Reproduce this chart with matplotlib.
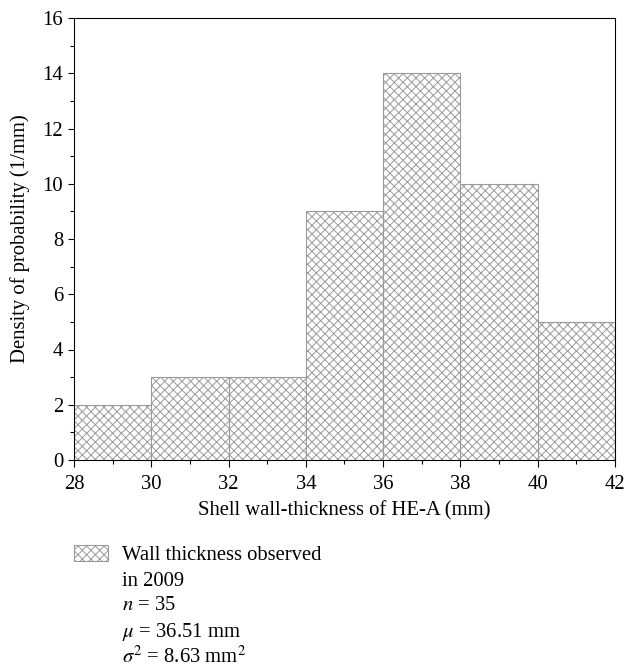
"""
Histogram of shell wall thickness (HE-A) with a hatched fill and a
hand-placed legend block under the axes.
"""

import matplotlib
matplotlib.use("Agg")
import matplotlib.pyplot as plt
from matplotlib.patches import Rectangle
from matplotlib.ticker import MultipleLocator

# ─── Data ─────────────────────────────────────────────────────────────────────

bin_left = [28, 30, 32, 34, 36, 38, 40]
bin_width = 2
density = [2, 3, 3, 9, 14, 10, 5]

x_ticks = [28, 30, 32, 34, 36, 38, 40, 42]
y_ticks = [0, 2, 4, 6, 8, 10, 12, 14, 16]

legend_lines = [
    "Wall thickness observed",
    "in 2009",
    r"$n$ = 35",
    r"$\mu$ = 36.51 mm",
    r"$\sigma^2$ = 8.63 mm$^2$",
]

# ─── Style ────────────────────────────────────────────────────────────────────

DPI = 78
W_PX, H_PX = 625, 669

plt.rcParams.update({
    "font.family":      ["Liberation Serif", "DejaVu Serif"],
    "mathtext.fontset": "stix",
    "font.size":        19,
    "hatch.linewidth":  0.9,
    "axes.linewidth":   1.0,
})

EDGE = "#9a9a9a"
HATCH = "xxx"


def px(x, y):
    """Pixel position (from top-left) to figure fraction."""
    return x / W_PX, 1 - y / H_PX


fig = plt.figure(figsize=(W_PX / DPI, H_PX / DPI), dpi=DPI)
l, t = px(74, 18)
r, b = px(615, 460)
ax = fig.add_axes([l, b, r - l, t - b])

ax.bar(bin_left, density, width=bin_width, align="edge",
       facecolor="white", edgecolor=EDGE, hatch=HATCH, linewidth=1.0)

ax.set_xlim(28, 42)
ax.set_ylim(0, 16)
ax.set_xticks(x_ticks)
ax.set_yticks(y_ticks)
ax.xaxis.set_minor_locator(MultipleLocator(1))
ax.yaxis.set_minor_locator(MultipleLocator(1))
ax.tick_params(which="both", direction="out", top=False, right=False, width=1.0)
ax.tick_params(which="major", length=6, pad=4)
ax.tick_params(axis="x", which="major", pad=7.5)
ax.tick_params(which="minor", length=3.5)

ax.set_xlabel("Shell wall-thickness of HE-A (mm)", labelpad=7)
ax.set_ylabel("Density of probability (1/mm)", labelpad=11)

# ─── Legend block ─────────────────────────────────────────────────────────────

x0, y0 = px(74, 561)
x1, y1 = px(108, 545)
fig.patches.append(Rectangle((x0, y0), x1 - x0, y1 - y0,
                             transform=fig.transFigure, facecolor="white",
                             edgecolor=EDGE, hatch=HATCH, linewidth=1.0))

line_y = [555, 581, 606, 632, 657]
for y, txt in zip(line_y, legend_lines):
    tx, ty = px(122, y)
    fig.text(tx, ty, txt, ha="left", va="center")

fig.savefig("out.png", dpi=DPI)
